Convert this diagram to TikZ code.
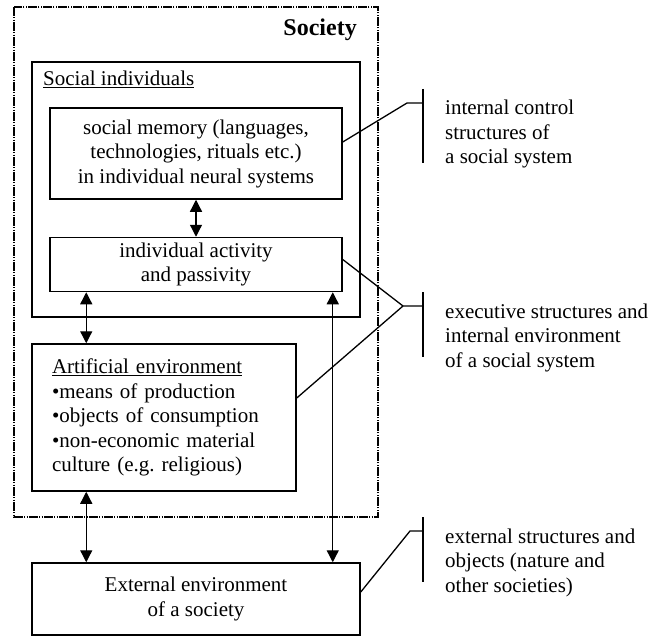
\documentclass[tikz,border=0pt]{standalone}
\usepackage{fontspec}
\setmainfont{Liberation Serif}
\usetikzlibrary{arrows.meta, positioning}

\begin{document}
\begin{tikzpicture}[
    x=1pt, y=-1pt,
    >={Triangle[length=12pt, width=12pt]},
    every node/.style={font=\fontsize{21}{24.5}\selectfont, inner sep=0pt},
    blk/.style={draw, line width=1.5pt, align=center},
    lnk/.style={line width=1.3pt},
    boundary/.style={line width=1.3pt, dash pattern=on 9pt off 1.2pt on 1.2pt off 1.2pt on 1.2pt off 1.2pt},
    note/.style={anchor=north west, align=left},
]
    \useasboundingbox (0,0) rectangle (652,636);
    \draw[boundary] (14,7) rectangle (378,517);
    \node[anchor=base east, font=\fontsize{24}{28}\selectfont\bfseries] (society) at (357,36) {Society};
    \node[blk, minimum width=328pt, minimum height=255pt] (indiv) at (196,189.5) {};
    \node[anchor=base west] (indivlabel) at (43,86) {\underline{Social individuals}};
    \node[blk, minimum width=292pt, minimum height=91pt] (memory) at (196,153.5)
        {social memory (languages,\\technologies, rituals etc.)\\in individual neural systems};
    \node[blk, minimum width=292pt, minimum height=54pt, below=37pt of memory] (activity)
        {individual activity\\and passivity};
    \node[blk, align=left, text width=224pt, inner xsep=20pt, minimum height=147pt] (artificial) at (164,417.5)
        {\underline{Artificial environment}\\•means of production\\•objects of consumption\\•non-economic material\\culture (e.g.\ religious)};
    \node[blk, minimum width=328pt, minimum height=72pt] (external) at (196,599)
        {External environment\\of a society};

    \draw[lnk, <->] (memory) -- (activity);
    \draw[lnk, <->] ([xshift=37pt]activity.south west) -- ([xshift=37pt]activity.south west |- artificial.north);
    \draw[lnk, <->] ([xshift=55pt]artificial.south west) -- ([xshift=55pt]artificial.south west |- external.north);
    \draw[lnk, <->] ([xshift=-10pt]activity.south east) -- ([xshift=-10pt]activity.south east |- external.north);

    \node[note] (ctrltext) at (445,100) {internal control\\structures of\\a social system};
    \node[note] (exectext) at (445,303.7) {executive structures and\\internal environment\\of a social system};
    \node[note] (exttext) at (445,528.7) {external structures and\\objects (nature and\\other societies)};

    \coordinate (ctrlstub) at (407,103);
    \coordinate (execstub) at (403,306);
    \coordinate (extstub) at (410,531);
    \draw[lnk] (423,89) -- (423,163);
    \draw[lnk] (423,292) -- (423,357);
    \draw[lnk] (423,517) -- (423,582);
    \draw[lnk] ([yshift=11.5pt]memory.east) -- (ctrlstub) -- (ctrlstub -| 423,0);
    \draw[lnk] ([yshift=5pt]activity.east) -- (execstub) -- (execstub -| 423,0);
    \draw[lnk] ([yshift=19.5pt]artificial.east) -- (execstub);
    \draw[lnk] ([yshift=7pt]external.east) -- (extstub) -- (extstub -| 423,0);
\end{tikzpicture}
\end{document}
